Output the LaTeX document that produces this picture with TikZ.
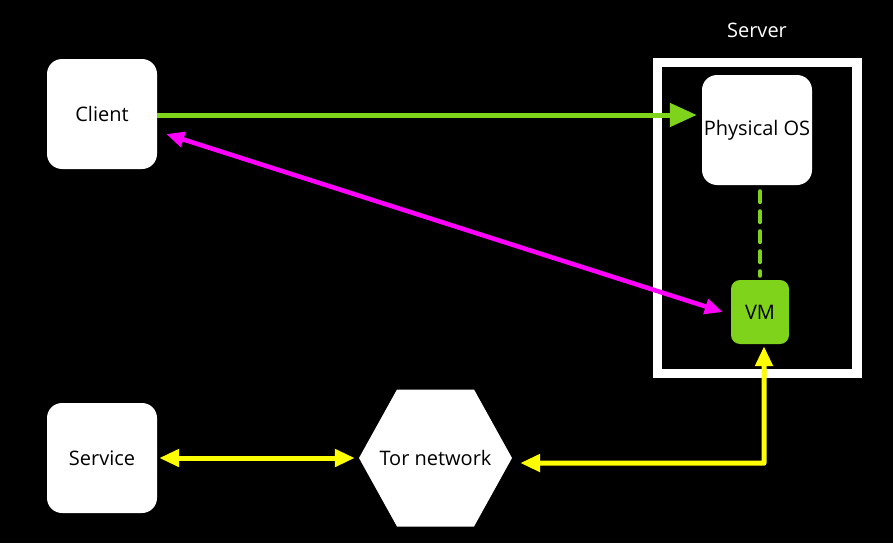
\documentclass[tikz,border=0pt]{standalone}
\usepackage{fontspec}
\setmainfont{Open Sans}
\usetikzlibrary{arrows.meta,shapes.geometric,calc}
\definecolor{vmgreen}{HTML}{80D31B}
\definecolor{mag}{HTML}{FF00FF}
\definecolor{yel}{HTML}{FFFF00}
\begin{document}
\begin{tikzpicture}[x=1pt,y=-1pt,
  lbl/.style={font=\fontsize{20}{23}\selectfont},
  box/.style={lbl,fill=white,rounded corners=15pt,minimum width=110pt,minimum height=110pt,inner sep=0pt,text=black},
  vmbox/.style={lbl,fill=vmgreen,rounded corners=9pt,minimum width=58pt,minimum height=64pt,inner sep=0pt,text=black},
  hexa/.style={lbl,minimum width=153pt,minimum height=137pt,inner sep=0pt,text=black},
  frame/.style={draw=white,line width=9.5pt},
  greenarrow/.style={draw=vmgreen,line width=5pt,-{Triangle[length=27pt,width=23pt]}},
  greendash/.style={draw=vmgreen,line width=4pt,line cap=round,dash pattern=on 11pt off 9pt},
  magarrow/.style={draw=mag,line width=4.5pt,{Triangle[length=18pt,width=15pt]}-{Triangle[length=18pt,width=15pt]}},
  yelarrow/.style={draw=yel,line width=5pt,{Triangle[length=20pt,width=17pt]}-{Triangle[length=20pt,width=17pt]}}
]
\fill[black] (0,0) rectangle (893,543);
\useasboundingbox (0,0) rectangle (893,543);

\node[frame,minimum width=199.5pt,minimum height=311pt,inner sep=0pt] (server) at (757,218) {};
\node[lbl,text=white] (serverlabel) at (757,30) {Server};

\node[box] (client) at (102,114) {Client};
\node[box] (service) at (102,458) {Service};
\node[box] (phys) at (757,130) {Physical OS};
\node[vmbox] (vm) at (760,312) {VM};

\coordinate (torc) at (435.5,458);
\fill[white] ($(torc)+(-76.5,0)$) -- ($(torc)+(-38.5,-68.5)$) -- ($(torc)+(38.5,-68.5)$)
  -- ($(torc)+(76.5,0)$) -- ($(torc)+(38.5,68.5)$) -- ($(torc)+(-38.5,68.5)$) -- cycle;
\node[hexa] (tor) at (torc) {Tor network};

% green arrow
\draw[greenarrow] ($(client.east)+(0,1)$) -- ($(phys.west)+(-5,-15)$);
% green dashed
\draw[greendash] ($(phys.south)+(3,6)$) -- ($(vm.north)+(0,-4)$);
% magenta
\draw[magarrow] ($(client.east)+(9,20)$) -- ($(vm.west)+(-8,0)$);
% yellow service - tor
\draw[yelarrow] ($(service.east)+(2,0)$) -- ($(tor.west)+(-4,0)$);
% yellow tor - vm
\coordinate (corner) at ($(vm.south)+(4,119)$);
\draw[yelarrow,line join=round] ($(tor.east)+(8,5)$) -- (corner) -- ($(vm.south)+(4,2)$);
\end{tikzpicture}
\end{document}
